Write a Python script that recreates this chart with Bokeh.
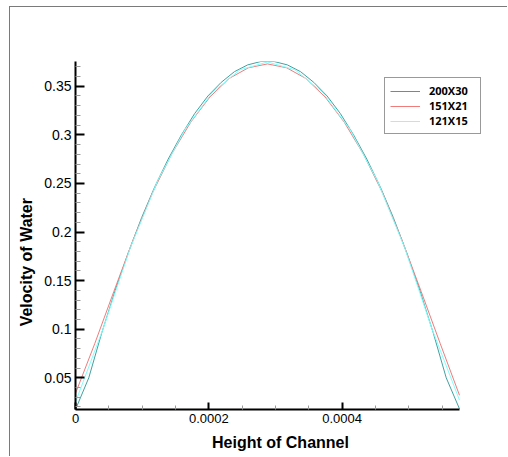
from bokeh.plotting import figure
from bokeh.models import Range1d, FixedTicker, NumeralTickFormatter, Legend, LegendItem
from bokeh.embed import file_html
from bokeh.resources import INLINE

# Channel height positions (micrometres) and water velocity for each mesh
height_200x30_um = [0, 19.9, 39.7, 59.6, 79.4, 99.3, 119.2, 139.0, 158.9, 178.8,
                    198.6, 218.5, 238.3, 258.2, 278.1, 297.9, 317.8, 337.7, 357.5, 377.4,
                    397.2, 417.1, 437.0, 456.8, 476.7, 496.6, 516.4, 536.3, 556.1, 576.0]
velocity_200x30 = [0.0174, 0.050, 0.097, 0.140, 0.179, 0.215, 0.247, 0.275, 0.300, 0.322,
                   0.340, 0.354, 0.365, 0.372, 0.3755, 0.3755, 0.372, 0.365, 0.354, 0.340,
                   0.322, 0.300, 0.275, 0.247, 0.215, 0.179, 0.140, 0.097, 0.050, 0.018]

height_151x21_um = [0, 28.8, 57.6, 86.4, 115.2, 144.0, 172.8, 201.6, 230.4, 259.2, 288.0,
                    316.8, 345.6, 374.4, 403.2, 432.0, 460.8, 489.6, 518.4, 547.2, 576.0]
velocity_151x21 = [0.034, 0.085, 0.139, 0.192, 0.240, 0.280, 0.313, 0.339, 0.358, 0.369, 0.373,
                   0.369, 0.358, 0.339, 0.313, 0.280, 0.240, 0.192, 0.139, 0.085, 0.032]

height_121x15_um = [0, 41.1, 82.3, 123.4, 164.6, 205.7, 246.9, 288.0,
                    329.1, 370.3, 411.4, 452.6, 493.7, 534.9, 576.0]
velocity_121x15 = [0.025, 0.100, 0.184, 0.253, 0.306, 0.344, 0.367, 0.375,
                   0.367, 0.344, 0.306, 0.253, 0.184, 0.100, 0.027]

mesh_labels = ["200X30", "151X21", "121X15"]
mesh_colors = ["#43A0A0", "#F07B7B", "#7FFFFF"]

channel_height = 0.000576
x_ticks = [0, 0.0002, 0.0004]
x_minor_ticks = [0.00005, 0.0001, 0.00015, 0.00025, 0.0003, 0.00035, 0.00045, 0.0005, 0.00055]
y_ticks = [0.05, 0.1, 0.15, 0.2, 0.25, 0.3, 0.35]
y_minor_ticks = [round(0.01 * k, 2) for k in range(2, 38) if k % 5]


def to_metres(values_um):
    return [v * 1e-6 for v in values_um]


# The frame runs a little past the channel so the legend box has room;
# the x axis line itself stops at the channel wall via its bounds.
frame_px, axis_px = 410, 384
p = figure(width=498, height=450, output_backend="svg", toolbar_location=None,
           x_range=Range1d(0, channel_height * frame_px / axis_px),
           y_range=Range1d(0.0174, 0.3755),
           min_border_left=65, min_border_right=23, min_border_top=54, min_border_bottom=48)
p.margin = (6, 0, 0, 9)
p.styles = {"border-top": "1px solid #7a7a7a", "border-left": "1px solid #7a7a7a"}
p.outline_line_color = None
p.xgrid.visible = False
p.ygrid.visible = False
p.background_fill_color = "white"
p.border_fill_color = "white"

r_fine = p.line(to_metres(height_200x30_um), velocity_200x30, line_color=mesh_colors[0], line_width=1)
r_mid = p.line(to_metres(height_151x21_um), velocity_151x21, line_color=mesh_colors[1], line_width=1)
r_coarse = p.line(to_metres(height_121x15_um), velocity_121x15, line_color=mesh_colors[2], line_width=1)

# Axes
for ax in (p.xaxis[0], p.yaxis[0]):
    ax.axis_line_color = "black"
    ax.axis_line_width = 2
    ax.major_tick_line_color = "black"
    ax.major_tick_line_width = 2
    ax.major_tick_out = 0
    ax.minor_tick_out = 0
    ax.minor_tick_line_color = "#9a9a9a"
    ax.minor_tick_line_width = 1
    ax.major_label_text_font = "Liberation Sans"
    ax.major_label_text_color = "black"
    ax.axis_label_text_font = "Liberation Sans"
    ax.axis_label_text_font_style = "bold"
    ax.axis_label_text_font_size = "16px"
    ax.axis_label_text_color = "black"

p.xaxis.bounds = (0, channel_height)
p.xaxis.ticker = FixedTicker(ticks=x_ticks, minor_ticks=x_minor_ticks)
p.xaxis.formatter = NumeralTickFormatter(format="0.[0000]")
p.xaxis.major_tick_in = 7
p.xaxis.minor_tick_in = 4
p.xaxis.major_label_text_font_size = "13px"
p.xaxis.major_label_standoff = 4
p.xaxis.axis_label = "Height of Channel"
p.xaxis.axis_label_standoff = 8

p.yaxis.ticker = FixedTicker(ticks=y_ticks, minor_ticks=y_minor_ticks)
p.yaxis.formatter = NumeralTickFormatter(format="0.[00]")
p.yaxis.major_tick_in = 9
p.yaxis.minor_tick_in = 5
p.yaxis.major_label_text_font_size = "14px"
p.yaxis.major_label_standoff = 4
# trailing no-break spaces set the title a little below the axis middle
p.yaxis.axis_label = "Velocity of Water" + "\u00a0" * 12
p.yaxis.axis_label_standoff = 6

legend = Legend(items=[LegendItem(label=mesh_labels[0], renderers=[r_fine]),
                       LegendItem(label=mesh_labels[1], renderers=[r_mid]),
                       LegendItem(label=mesh_labels[2], renderers=[r_coarse])],
                location=(309, 275))
legend.padding = 5
legend.spacing = 0
legend.glyph_width = 30
legend.glyph_height = 12
legend.label_height = 12
legend.label_width = 46
legend.label_standoff = 9
legend.label_text_font = "Open Sans"
legend.label_text_font_style = "bold"
legend.label_text_font_size = "11px"
legend.label_text_color = "black"
legend.border_line_color = "#333333"
legend.border_line_width = 1
legend.background_fill_color = "white"
legend.background_fill_alpha = 1
legend.margin = 0
p.add_layout(legend)

open("out.html", "w").write(file_html(p, INLINE))
